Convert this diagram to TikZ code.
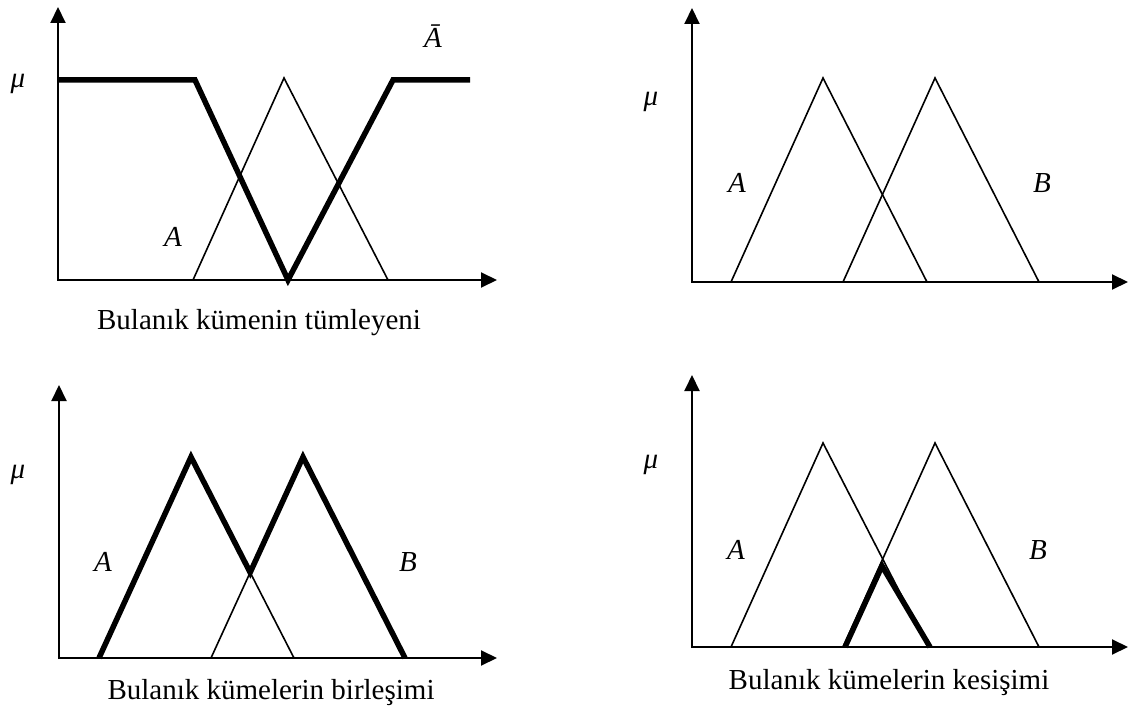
\documentclass[tikz,border=0pt]{standalone}
\usepackage{fontspec}
\setmainfont{Liberation Serif}
\usetikzlibrary{arrows.meta}
\tikzset{
  axis/.style={line width=2, -{Triangle[length=16pt,width=15pt]}},
  memb/.style={line width=1.6},
  hull/.style={line width=5.5},
  sym/.style={font=\fontsize{29}{32}\selectfont\itshape},
  caption/.style={font=\fontsize{29}{34}\selectfont}
}

\begin{document}
\begin{tikzpicture}[x=1pt,y=-1pt]
\useasboundingbox (0,0) rectangle (1138,711);

% tumleyen
\draw[axis] (58,281) -- (58,7);
\draw[axis] (57,280) -- (497,280);
\draw[memb] (193,280) -- (284,78) -- (388,280);
\draw[hull] (58,80) -- (195,80) -- (288,280) -- (393,80) -- (470,80);
\node[sym] (mu1) at (18,84) {μ};
\node[sym] (Abar) at (433,36) {Ā};
\node[sym] (A1) at (173,237) {A};
\node[caption] (cap1) at (259,323) {Bulanık kümenin tümleyeni};

% iki kume
\draw[axis] (692,283) -- (692,8);
\draw[axis] (691,282) -- (1128,282);
\draw[memb] (731,282) -- (823,78) -- (927,282);
\draw[memb] (843,282) -- (935,78) -- (1039,282);
\node[sym] (mu2) at (651,102) {μ};
\node[sym] (A2) at (737,183) {A};
\node[sym] (B2) at (1042,183) {B};

% birlesim
\coordinate (a0) at (99,658);
\coordinate (a1) at (191,457);
\coordinate (a2) at (294,658);
\coordinate (b0) at (211,658);
\coordinate (b1) at (303,457);
\coordinate (b2) at (405,658);
\coordinate (ab) at (intersection of a1--a2 and b0--b1);
\draw[axis] (59,659) -- (59,385);
\draw[axis] (58,658) -- (497,658);
\draw[memb] (a0) -- (a1) -- (a2);
\draw[memb] (b0) -- (b1) -- (b2);
\draw[hull] (a0) -- (a1) -- (ab) -- (b1) -- (b2);
\node[sym] (mu3) at (18,475) {μ};
\node[sym] (A3) at (103,562) {A};
\node[sym] (B3) at (408,562) {B};
\node[caption] (cap3) at (271,693) {Bulanık kümelerin birleşimi};

% kesisim
\draw[axis] (692,648) -- (692,375);
\draw[axis] (691,647) -- (1128,647);
\draw[memb] (731,647) -- (823,443) -- (928,647);
\draw[memb] (843,647) -- (935,443) -- (1039,647);
\draw[hull] (845,647) -- (882,566) -- (930,647);
\node[sym] (mu4) at (651,465) {μ};
\node[sym] (A4) at (736,550) {A};
\node[sym] (B4) at (1038,550) {B};
\node[caption] (cap4) at (889,683) {Bulanık kümelerin kesişimi};

\end{tikzpicture}
\end{document}
